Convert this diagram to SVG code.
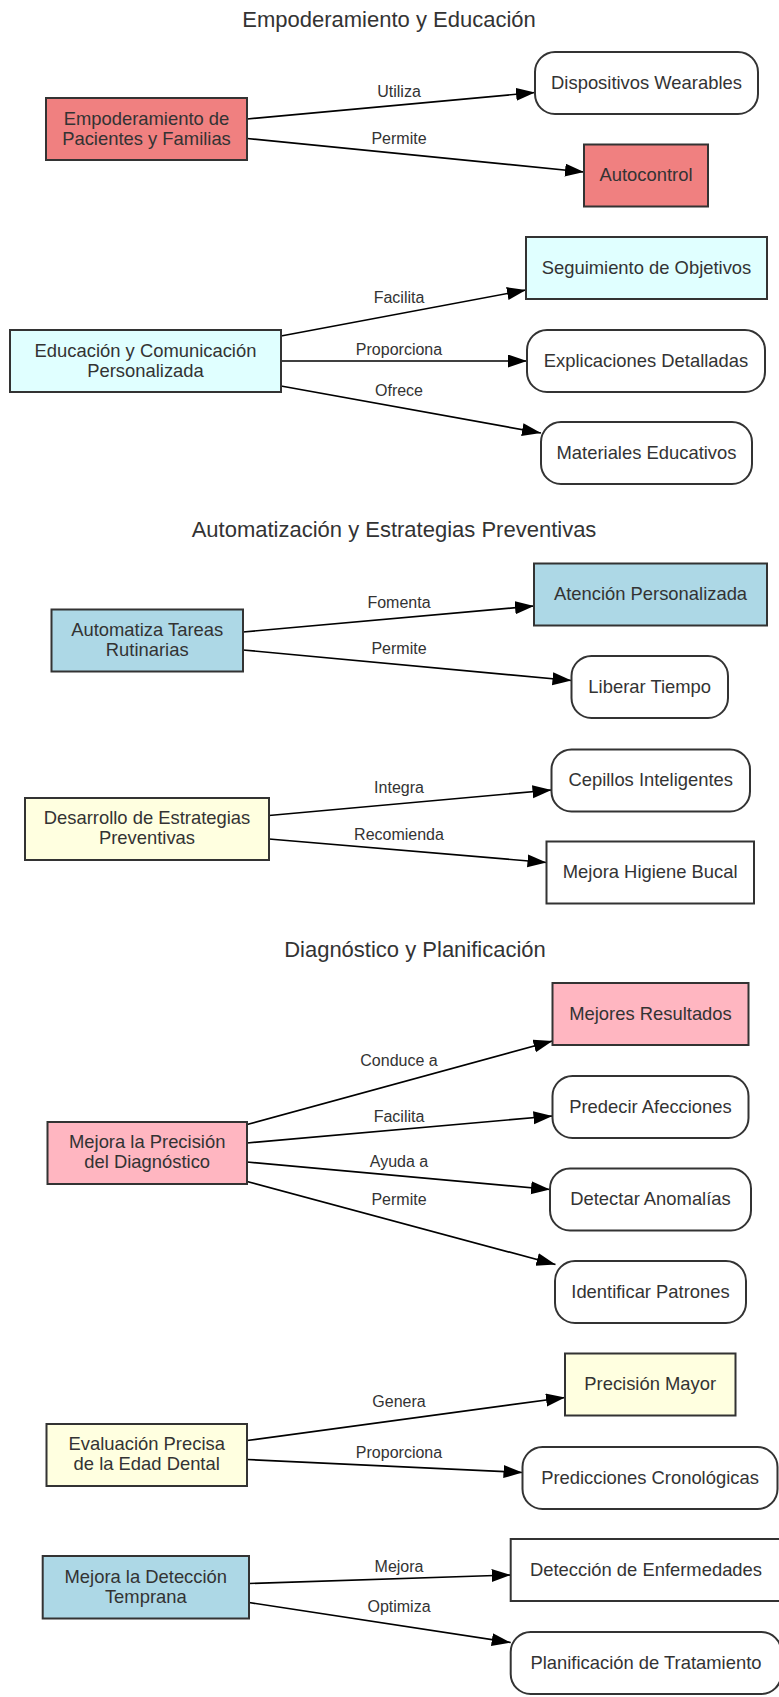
<svg xmlns="http://www.w3.org/2000/svg" width="779" height="1697" viewBox="0 0 779 1697">
<style>
text{font-family:"Liberation Sans",Arial,sans-serif;fill:#333}
.title{font-size:22px;text-anchor:middle}
.nt{font-size:18.4px;text-anchor:middle}
.el{font-size:16px;text-anchor:middle}
.box{stroke:#333;stroke-width:2}
.white{fill:#fff}
.coral{fill:#F08080}
.cyan{fill:#E0FFFF}
.blue{fill:#ADD8E6}
.yellow{fill:#FFFFE0}
.pink{fill:#FFB6C1}
.edge{stroke:#000;stroke-width:1.7;fill:none;marker-end:url(#arr)}
</style>
<defs>
<marker id="arr" markerUnits="userSpaceOnUse" markerWidth="20" markerHeight="14" refX="19" refY="6.5" orient="auto">
<path d="M0,0 L19,6.5 L0,13 z" fill="#000"/>
</marker>
</defs>
<rect width="779" height="1697" fill="#fff"/>

<text class="title" x="389" y="27">Empoderamiento y Educación</text>
<text class="title" x="394" y="537">Automatización y Estrategias Preventivas</text>
<text class="title" x="415" y="957">Diagnóstico y Planificación</text>

<g id="connectors">
<line class="edge" x1="247" y1="119" x2="535" y2="92.5"/>
<text class="el" x="399" y="97">Utiliza</text>
<line class="edge" x1="247" y1="138.5" x2="584" y2="172"/>
<text class="el" x="399" y="144">Permite</text>
<line class="edge" x1="281" y1="336" x2="526" y2="290"/>
<text class="el" x="399" y="303">Facilita</text>
<line class="edge" x1="281" y1="361" x2="527" y2="361"/>
<text class="el" x="399" y="355">Proporciona</text>
<line class="edge" x1="281" y1="386" x2="541" y2="433"/>
<text class="el" x="399" y="396">Ofrece</text>
<line class="edge" x1="243" y1="632" x2="534" y2="606"/>
<text class="el" x="399" y="608">Fomenta</text>
<line class="edge" x1="243" y1="650" x2="571.5" y2="680.5"/>
<text class="el" x="399" y="654">Permite</text>
<line class="edge" x1="269" y1="815.5" x2="551.5" y2="790"/>
<text class="el" x="399" y="793">Integra</text>
<line class="edge" x1="269" y1="839" x2="546.5" y2="862.5"/>
<text class="el" x="399" y="840">Recomienda</text>
<line class="edge" x1="247" y1="1124.5" x2="552.5" y2="1041"/>
<text class="el" x="399" y="1066">Conduce a</text>
<line class="edge" x1="247" y1="1143" x2="552.5" y2="1116"/>
<text class="el" x="399" y="1121.5">Facilita</text>
<line class="edge" x1="247" y1="1162" x2="550" y2="1189.5"/>
<text class="el" x="399" y="1167">Ayuda a</text>
<line class="edge" x1="247" y1="1181.5" x2="555.5" y2="1264.5"/>
<text class="el" x="399" y="1205">Permite</text>
<line class="edge" x1="247" y1="1440.5" x2="565" y2="1397.5"/>
<text class="el" x="399" y="1407">Genera</text>
<line class="edge" x1="247" y1="1459.5" x2="522.5" y2="1472.5"/>
<text class="el" x="399" y="1458">Proporciona</text>
<line class="edge" x1="249" y1="1583.5" x2="510.7" y2="1575"/>
<text class="el" x="399" y="1571.5">Mejora</text>
<line class="edge" x1="249" y1="1602.5" x2="510.7" y2="1642.5"/>
<text class="el" x="399" y="1611.5">Optimiza</text>
</g>

<g id="n1"><rect class="box coral" x="46" y="98" width="201" height="62"/><text class="nt" x="146.5" y="124.5">Empoderamiento de</text><text class="nt" x="146.5" y="144.5">Pacientes y Familias</text></g>
<g id="n2"><rect class="box white" x="535" y="52" width="223" height="62" rx="20"/><text class="nt" x="646.5" y="88.5">Dispositivos Wearables</text></g>
<g id="n3"><rect class="box coral" x="584" y="144.5" width="124" height="62"/><text class="nt" x="646" y="181">Autocontrol</text></g>
<g id="n4"><rect class="box cyan" x="10" y="330" width="271" height="62"/><text class="nt" x="145.5" y="356.5">Educación y Comunicación</text><text class="nt" x="145.5" y="376.5">Personalizada</text></g>
<g id="n5"><rect class="box cyan" x="526" y="237" width="241" height="62"/><text class="nt" x="646.5" y="273.5">Seguimiento de Objetivos</text></g>
<g id="n6"><rect class="box white" x="527" y="330" width="238" height="62" rx="20"/><text class="nt" x="646" y="366.5">Explicaciones Detalladas</text></g>
<g id="n7"><rect class="box white" x="541" y="422" width="211" height="62" rx="20"/><text class="nt" x="646.5" y="458.5">Materiales Educativos</text></g>

<g id="n8"><rect class="box blue" x="51.5" y="609.5" width="191.5" height="62"/><text class="nt" x="147.2" y="635.5">Automatiza Tareas</text><text class="nt" x="147.2" y="655.5">Rutinarias</text></g>
<g id="n9"><rect class="box blue" x="534" y="563.5" width="233" height="62"/><text class="nt" x="650.5" y="600">Atención Personalizada</text></g>
<g id="n10"><rect class="box white" x="571.5" y="656" width="156.5" height="62" rx="20"/><text class="nt" x="649.7" y="692.5">Liberar Tiempo</text></g>
<g id="n11"><rect class="box yellow" x="25" y="798" width="244" height="62"/><text class="nt" x="147" y="824">Desarrollo de Estrategias</text><text class="nt" x="147" y="844">Preventivas</text></g>
<g id="n12"><rect class="box white" x="551.5" y="749.5" width="198.5" height="62" rx="20"/><text class="nt" x="650.7" y="786">Cepillos Inteligentes</text></g>
<g id="n13"><rect class="box white" x="546.5" y="841.5" width="207.5" height="62"/><text class="nt" x="650.2" y="878">Mejora Higiene Bucal</text></g>

<g id="n14"><rect class="box pink" x="47.5" y="1122" width="199.5" height="62"/><text class="nt" x="147.2" y="1148">Mejora la Precisión</text><text class="nt" x="147.2" y="1168">del Diagnóstico</text></g>
<g id="n15"><rect class="box pink" x="552.5" y="983" width="196" height="62"/><text class="nt" x="650.5" y="1019.5">Mejores Resultados</text></g>
<g id="n16"><rect class="box white" x="552.5" y="1076" width="196" height="62" rx="20"/><text class="nt" x="650.5" y="1112.5">Predecir Afecciones</text></g>
<g id="n17"><rect class="box white" x="550" y="1168.5" width="201" height="62" rx="20"/><text class="nt" x="650.5" y="1205">Detectar Anomalías</text></g>
<g id="n18"><rect class="box white" x="555" y="1261" width="191" height="62" rx="20"/><text class="nt" x="650.5" y="1297.5">Identificar Patrones</text></g>
<g id="n19"><rect class="box yellow" x="46.5" y="1424" width="200.5" height="62"/><text class="nt" x="146.7" y="1450">Evaluación Precisa</text><text class="nt" x="146.7" y="1470">de la Edad Dental</text></g>
<g id="n20"><rect class="box yellow" x="565" y="1353.5" width="170.5" height="62"/><text class="nt" x="650.2" y="1390">Precisión Mayor</text></g>
<g id="n21"><rect class="box white" x="522.5" y="1447" width="255" height="62" rx="20"/><text class="nt" x="650" y="1483.5">Predicciones Cronológicas</text></g>
<g id="n24"><rect class="box blue" x="42.7" y="1556" width="206.3" height="62.5"/><text class="nt" x="145.8" y="1582.5">Mejora la Detección</text><text class="nt" x="145.8" y="1602.5">Temprana</text></g>
<g id="n22"><rect class="box white" x="510.7" y="1539" width="270.6" height="62"/><text class="nt" x="646" y="1575.5">Detección de Enfermedades</text></g>
<g id="n23"><rect class="box white" x="510.7" y="1632" width="270.6" height="62" rx="20"/><text class="nt" x="646" y="1668.5">Planificación de Tratamiento</text></g>
</svg>
